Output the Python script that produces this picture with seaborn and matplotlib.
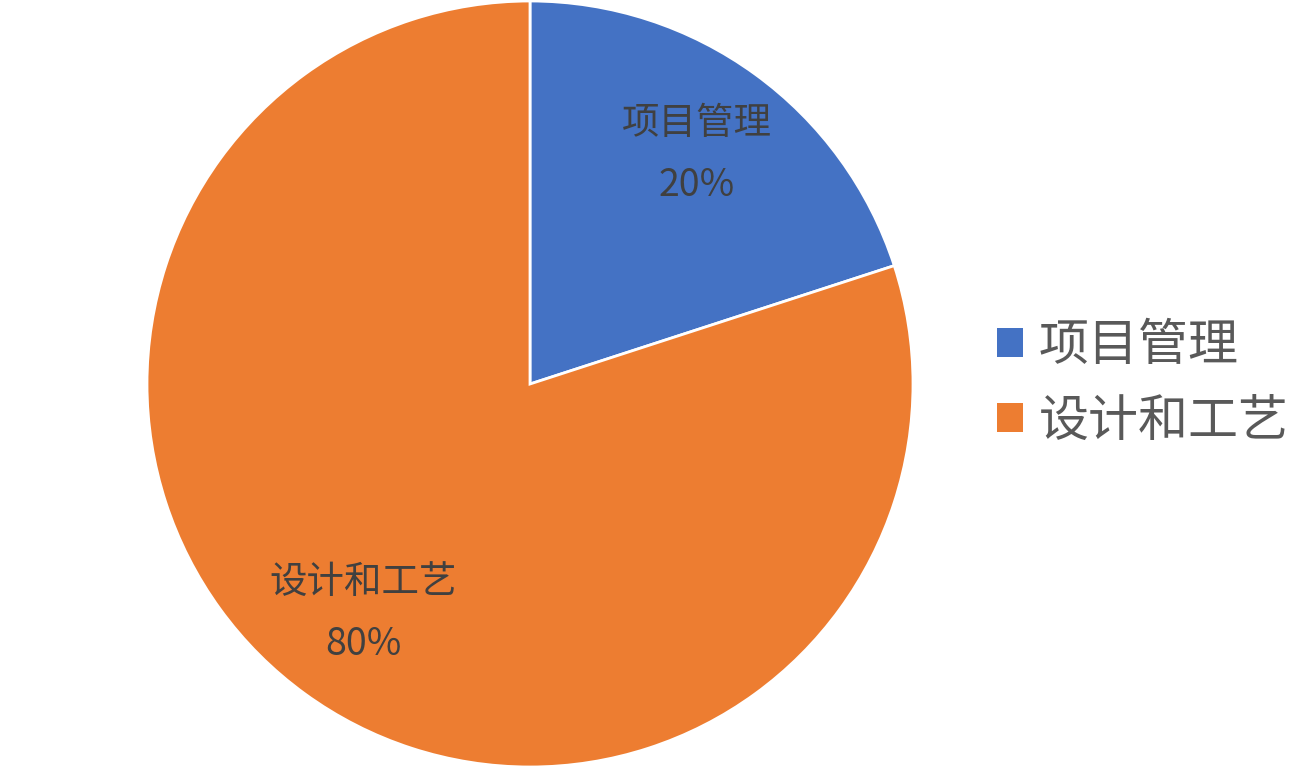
import matplotlib.pyplot as plt
import seaborn as sns
from matplotlib.patches import Patch

# data
categories = ['项目管理', '设计和工艺']
shares = [20, 80]
colors = ['#4472C4', '#ED7D31']

sns.set_theme(style="white")
plt.rcParams['font.family'] = ['Noto Sans CJK SC', 'DejaVu Sans']

fig = plt.figure(figsize=(13.1, 7.69), dpi=100)
ax = fig.add_axes([147 / 1310, 2 / 769, 766 / 1310, 766 / 769])

wedges, texts = ax.pie(
    shares, colors=colors, startangle=90, counterclock=False,
    labels=[f'{c}\n{s}%' for c, s in zip(categories, shares)],
    labeldistance=0.74,
    wedgeprops=dict(edgecolor='white', linewidth=2),
    textprops=dict(fontsize=27, color='#404040', ha='center', va='center', linespacing=1.75),
)
ax.set_xlim(-1, 1)
ax.set_ylim(-1, 1)
ax.set_aspect('equal')

handles = [Patch(facecolor=c, edgecolor='none') for c in colors]
fig.legend(handles, categories, loc='center left', bbox_to_anchor=(997 / 1310, 385 / 769),
           frameon=False, fontsize=36, labelcolor='#595959', borderpad=0, borderaxespad=0,
           handlelength=0.52, handleheight=0.52, handletextpad=0.32, labelspacing=0.46)

plt.savefig('out.png', dpi=100)
